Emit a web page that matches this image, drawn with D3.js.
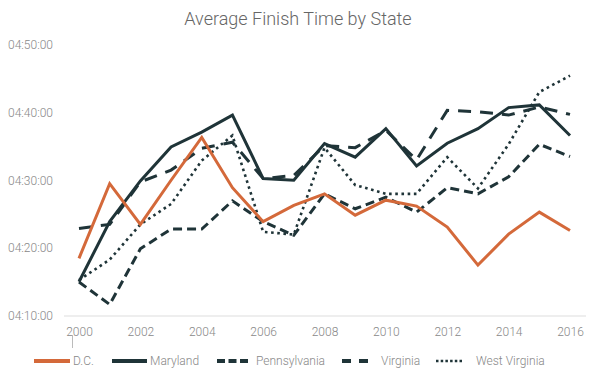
<!DOCTYPE html>
<html>
<head>
<meta charset="utf-8">
<script src="https://cdn.jsdelivr.net/npm/d3@7"></script>
<style>
  html, body { margin: 0; padding: 0; background: #fff; }
  svg { display: block; font-family: Roboto, "Noto Sans", sans-serif; }
</style>
</head>
<body>
<svg id="chart" width="597" height="392"></svg>
<script>
const title = "Average Finish Time by State";
const years = [2000,2001,2002,2003,2004,2005,2006,2007,2008,2009,2010,2011,2012,2013,2014,2015,2016];
const xTickYears = [2000,2002,2004,2006,2008,2010,2012,2014,2016];
const yTickLabels = ["04:10:00","04:20:00","04:30:00","04:40:00","04:50:00"];
const seriesNames = ["D.C.","Maryland","Pennsylvania","Virginia","West Virginia"];

const dcTimes = ["4:18:30","4:29:30","4:23:30","4:30:00","4:36:18","4:28:54","4:23:54","4:26:18","4:28:00","4:24:51","4:27:04","4:26:12","4:23:06","4:17:30","4:22:04","4:25:18","4:22:36"];
const marylandTimes = ["4:15:03","4:23:54","4:29:54","4:34:54","4:37:06","4:39:36","4:30:15","4:30:00","4:35:24","4:33:24","4:37:36","4:32:06","4:35:27","4:37:36","4:40:42","4:41:06","4:36:36"];
const pennsylvaniaTimes = ["4:15:00","4:11:42","4:19:54","4:22:48","4:22:48","4:26:58","4:23:54","4:21:54","4:28:00","4:25:48","4:27:30","4:25:18","4:28:54","4:28:00","4:30:30","4:35:18","4:33:30"];
const virginiaTimes = ["4:22:54","4:23:30","4:29:45","4:31:30","4:34:42","4:35:36","4:30:15","4:30:42","4:35:06","4:34:48","4:37:21","4:33:00","4:40:18","4:40:06","4:39:36","4:40:48","4:39:42"];
const westVirginiaTimes = ["4:15:18","4:18:18","4:23:30","4:26:30","4:32:54","4:36:36","4:22:24","4:22:00","4:34:48","4:29:18","4:28:00","4:28:00","4:33:24","4:28:48","4:35:18","4:43:00","4:45:24"];

const toSec = s => { const p = s.split(":").map(Number); return p[0]*3600 + p[1]*60 + p[2]; };
const fmt = sec => { const h = Math.floor(sec/3600), m = Math.floor((sec%3600)/60), s = sec%60;
  return [h,m,s].map(v => String(v).padStart(2,"0")).join(":"); };

const styles = [
  { color: "#d4693a", dash: null, cap: "butt", width: 3 },
  { color: "#1f3438", dash: null, cap: "butt", width: 3 },
  { color: "#1f3438", dash: "9,5", cap: "butt", width: 3 },
  { color: "#1f3438", dash: "13,9", cap: "butt", width: 3 },
  { color: "#1f3438", dash: "2.6,3.6", cap: "butt", width: 2.6 }
];
const allTimes = [dcTimes, marylandTimes, pennsylvaniaTimes, virginiaTimes, westVirginiaTimes];
const series = seriesNames.map((n,i) => ({ name: n, style: styles[i], values: years.map((y,j) => ({ year: y, sec: toSec(allTimes[i][j]) })) }));

const svg = d3.select("#chart");
const x = d3.scaleLinear().domain([2000, 2016]).range([79, 570]);
const yTicks = yTickLabels.map(toSec);
const y = d3.scaleLinear().domain([yTicks[0], yTicks[yTicks.length-1]]).range([316, 44.5]);

// title
svg.append("text").attr("x", 298).attr("y", 25).attr("text-anchor", "middle")
  .attr("font-size", 18).attr("font-weight", 300).attr("fill", "#666").text(title);

// y axis labels
const yAxis = d3.axisLeft(y).tickValues(yTicks).tickFormat(fmt).tickSize(0).tickPadding(0);
const yg = svg.append("g").attr("transform", "translate(53,0)").call(yAxis);
yg.select(".domain").remove();
yg.selectAll("text").attr("font-size", 12).attr("font-weight", 300).attr("fill", "#888")
  .attr("font-family", "Roboto, sans-serif");

// baseline
svg.append("line").attr("x1", 64).attr("x2", 586).attr("y1", y(yTicks[0])).attr("y2", y(yTicks[0]))
  .attr("stroke", "#ddd").attr("stroke-width", 1);

// x axis labels
const xAxis = d3.axisBottom(x).tickValues(xTickYears).tickFormat(d3.format("d")).tickSize(0).tickPadding(11);
const xg = svg.append("g").attr("transform", `translate(0,${y(yTicks[0])})`).call(xAxis);
xg.select(".domain").remove();
xg.selectAll("text").attr("font-size", 12).attr("font-weight", 300).attr("fill", "#888")
  .attr("font-family", "Roboto, sans-serif");

// small tick mark
svg.append("line").attr("x1", 72.5).attr("x2", 72.5).attr("y1", 335).attr("y2", 348)
  .attr("stroke", "#bbb").attr("stroke-width", 1);

// lines
const line = d3.line().x(d => x(d.year)).y(d => y(d.sec));
const drawOrder = [4, 3, 2, 1, 0];
drawOrder.forEach(i => {
  const s = series[i];
  svg.append("path").datum(s.values).attr("d", line).attr("fill", "none")
    .attr("stroke", s.style.color).attr("stroke-width", s.style.width)
    .attr("stroke-dasharray", s.style.dash).attr("stroke-linecap", s.style.cap)
    .attr("stroke-linejoin", "miter");
});

// legend
const legendItems = [
  { x1: 34, x2: 70, tx: 73 },
  { x1: 112, x2: 147, tx: 150 },
  { x1: 217, x2: 249, tx: 256 },
  { x1: 342, x2: 375, tx: 381 },
  { x1: 436, x2: 462, tx: 476 }
];
const legendDash = [null, null, "8,3.5", "9,8", "2.5,2.2"];
const ly = 361;
legendItems.forEach((p, i) => {
  const s = series[i];
  svg.append("line").attr("x1", p.x1).attr("x2", p.x2).attr("y1", ly).attr("y2", ly)
    .attr("stroke", s.style.color).attr("stroke-width", i === 4 ? 2.5 : 4)
    .attr("stroke-dasharray", legendDash[i]);
  svg.append("text").attr("x", p.tx).attr("y", ly).attr("dy", "0.35em")
    .attr("font-size", 12).attr("font-weight", 300).attr("fill", "#888").text(s.name);
});
</script>
</body>
</html>
